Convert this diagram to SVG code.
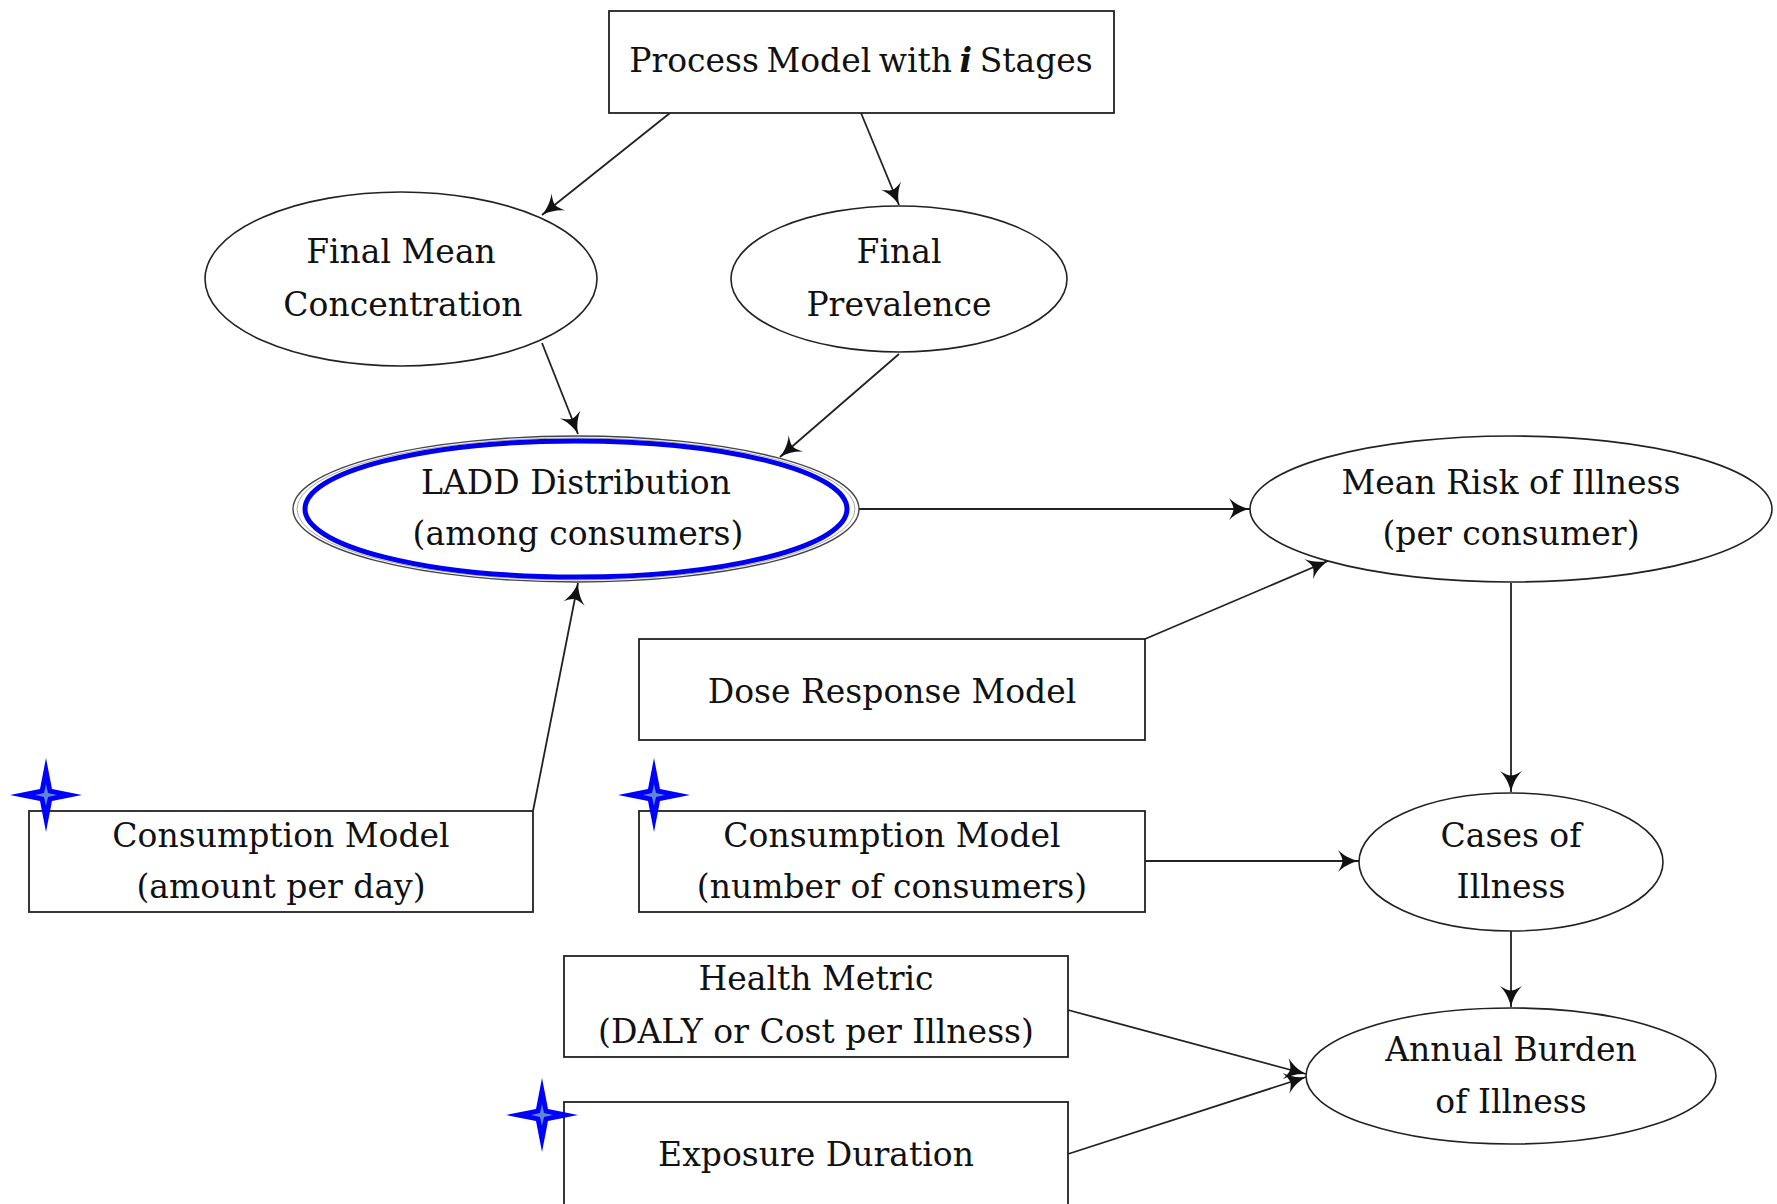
<svg xmlns="http://www.w3.org/2000/svg" width="1777" height="1204" viewBox="0 0 1777 1204">
<style>
  .box{fill:#fff;stroke:#222;stroke-width:1.8}
  .ell{fill:#fff;stroke:#222;stroke-width:1.6}
  .t{font-family:"DejaVu Serif","Liberation Serif",serif;font-size:33px;fill:#111;text-anchor:middle}
  .c{fill:none;stroke:#222;stroke-width:1.8}
  .star{fill:#0000ff}
  .dot{fill:#5a8ad0}
</style>
<defs>
  <marker id="ah" markerUnits="userSpaceOnUse" markerWidth="26" markerHeight="26" refX="23" refY="11" orient="auto">
    <path d="M23,11 C14,9 7,5 2,0 C5,5 6.5,8.5 6.5,11 C6.5,13.5 5,17 2,22 C7,17 14,13 23,11 Z" fill="#111"/>
  </marker>
  <g id="star">
    <path class="star" d="M0,-37 L6,-6 L36,0 L6,6 L0,37 L-6,6 L-36,0 L-6,-6 Z"/>
    <path class="dot" d="M0,-11 L2,-2 L11,0 L2,2 L0,11 L-2,2 L-11,0 L-2,-2 Z"/>
  </g>
</defs>

<g id="connectors">
  <line class="c" x1="670" y1="113" x2="542" y2="215" marker-end="url(#ah)"/>
  <line class="c" x1="861" y1="113" x2="899" y2="205" marker-end="url(#ah)"/>
  <line class="c" x1="542" y1="343" x2="578" y2="434" marker-end="url(#ah)"/>
  <line class="c" x1="899" y1="354" x2="780" y2="457" marker-end="url(#ah)"/>
  <line class="c" x1="859" y1="509" x2="1250" y2="509" marker-end="url(#ah)"/>
  <line class="c" x1="1145" y1="639" x2="1328" y2="561" marker-end="url(#ah)"/>
  <line class="c" x1="533" y1="811" x2="578" y2="583" marker-end="url(#ah)"/>
  <line class="c" x1="1511" y1="583" x2="1511" y2="792" marker-end="url(#ah)"/>
  <line class="c" x1="1145" y1="861" x2="1359" y2="861" marker-end="url(#ah)"/>
  <line class="c" x1="1511" y1="931" x2="1511" y2="1007" marker-end="url(#ah)"/>
  <line class="c" x1="1068" y1="1010" x2="1306" y2="1074" marker-end="url(#ah)"/>
  <line class="c" x1="1068" y1="1154" x2="1306" y2="1077" marker-end="url(#ah)"/>
</g>

<g id="process-model">
  <rect class="box" x="609" y="11" width="505" height="102"/>
  <text class="t" x="861" y="72" word-spacing="-3">Process Model with <tspan font-weight="bold" font-style="italic">i</tspan> Stages</text>
</g>

<g id="final-mean-concentration">
  <ellipse class="ell" cx="401" cy="279" rx="196" ry="87"/>
  <text class="t" x="401" y="263">Final Mean</text>
  <text class="t" x="403" y="316">Concentration</text>
</g>

<g id="final-prevalence">
  <ellipse class="ell" cx="899" cy="279" rx="168" ry="73"/>
  <text class="t" x="899" y="263">Final</text>
  <text class="t" x="899" y="316">Prevalence</text>
</g>

<g id="ladd-distribution">
  <ellipse cx="576" cy="509" rx="283" ry="73" fill="#fff" stroke="#444" stroke-width="1.4"/>
  <ellipse cx="576" cy="509" rx="279" ry="71" fill="none" stroke="#aaa" stroke-width="1"/>
  <ellipse cx="576" cy="509" rx="271" ry="68" fill="none" stroke="#0000ee" stroke-width="5"/>
  <text class="t" x="576" y="494">LADD Distribution</text>
  <text class="t" x="578" y="545">(among consumers)</text>
</g>

<g id="mean-risk">
  <ellipse class="ell" cx="1511" cy="509" rx="261" ry="73"/>
  <text class="t" x="1511" y="494">Mean Risk of Illness</text>
  <text class="t" x="1511" y="545">(per consumer)</text>
</g>

<g id="dose-response">
  <rect class="box" x="639" y="639" width="506" height="101"/>
  <text class="t" x="892" y="703">Dose Response Model</text>
</g>

<g id="consumption-amount">
  <rect class="box" x="29" y="811" width="504" height="101"/>
  <text class="t" x="281" y="847">Consumption Model</text>
  <text class="t" x="281" y="898">(amount per day)</text>
  <use href="#star" x="46" y="795"/>
</g>

<g id="consumption-number">
  <rect class="box" x="639" y="811" width="506" height="101"/>
  <text class="t" x="892" y="847">Consumption Model</text>
  <text class="t" x="892" y="898">(number of consumers)</text>
  <use href="#star" x="654" y="795"/>
</g>

<g id="cases-of-illness">
  <ellipse class="ell" cx="1511" cy="862" rx="152" ry="69"/>
  <text class="t" x="1511" y="847">Cases of</text>
  <text class="t" x="1511" y="898">Illness</text>
</g>

<g id="health-metric">
  <rect class="box" x="564" y="956" width="504" height="101"/>
  <text class="t" x="816" y="990">Health Metric</text>
  <text class="t" x="816" y="1043">(DALY or Cost per Illness)</text>
</g>

<g id="exposure-duration">
  <rect class="box" x="564" y="1102" width="504" height="120"/>
  <text class="t" x="816" y="1166">Exposure Duration</text>
  <use href="#star" x="542" y="1115"/>
</g>

<g id="annual-burden">
  <ellipse class="ell" cx="1511" cy="1076" rx="205" ry="68"/>
  <text class="t" x="1511" y="1061">Annual Burden</text>
  <text class="t" x="1511" y="1113">of Illness</text>
</g>
</svg>
